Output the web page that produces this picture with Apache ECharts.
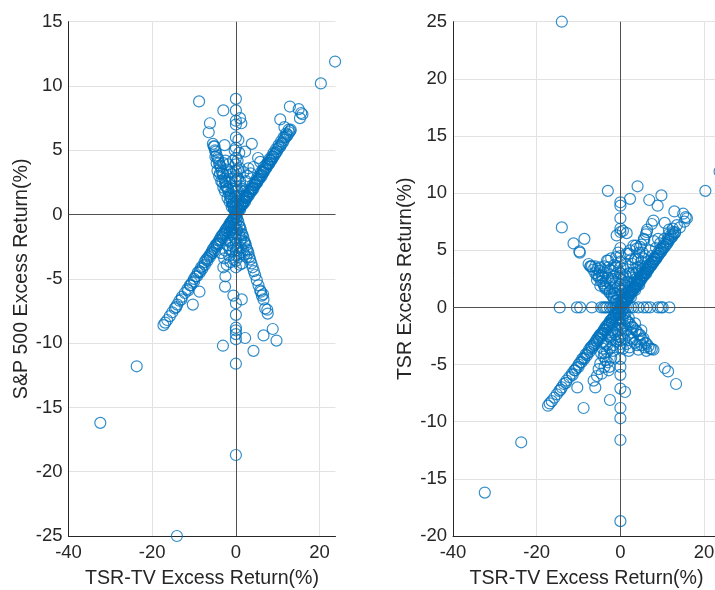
<!DOCTYPE html>
<html>
<head>
<meta charset="utf-8">
<script src="https://cdn.jsdelivr.net/npm/echarts@6/dist/echarts.min.js"></script>
<style>
  html, body { margin: 0; padding: 0; background: #ffffff; }
  #chart { width: 715px; height: 590px; }
</style>
</head>
<body>
<div id="chart"></div>
<script>
// Axis ranges and tick labels
const xMin = -40, xMax = 23.8;
const xTicks = [-40, -20, 0, 20];
const leftYTicks = [-25, -20, -15, -10, -5, 0, 5, 10, 15];
const rightYTicks = [-20, -15, -10, -5, 0, 5, 10, 15, 20, 25];

const xTitle = 'TSR-TV Excess Return(%)';
const leftYTitle = 'S&P 500 Excess Return(%)';
const rightYTitle = 'TSR Excess Return(%)';

// Days that fall on the same spot in both panels: [TSR-TV excess, other excess]
const sharedBand = [
  [0.2,0.1],[0.4,0.3],[0.6,0.3],[0.8,0.5],[1.0,0.4],[1.1,0.6],[1.3,0.7],[1.5,0.8],[1.7,0.8],[1.9,1.0],
  [2.1,1.1],[2.2,1.0],[2.4,1.3],[2.6,1.3],[2.8,1.4],[3.0,1.6],[3.1,1.5],[3.3,1.7],[3.5,1.8],[3.7,1.8],
  [3.9,2.0],[4.1,2.1],[4.2,2.0],[4.4,2.3],[4.6,2.3],[4.8,2.4],[5.0,2.6],[5.1,2.5],[5.3,2.7],[5.5,2.8],
  [5.7,2.8],[5.9,3.0],[6.1,3.1],[6.2,3.0],[6.4,3.3],[6.6,3.3],[6.8,3.4],[7.0,3.6],[7.2,3.6],[7.4,3.7],
  [7.6,3.9],[7.8,3.9],[8.0,4.0],[8.2,4.2],[8.4,4.2],[8.6,4.3],[8.8,4.5],[9.0,4.5],[9.3,4.7],[9.5,4.8],
  [9.8,4.9],[10.0,5.1],[10.3,5.2],[10.6,5.3],[10.9,5.5],[11.2,5.6],[11.5,5.8],[11.8,6.0],[12.1,6.1],
  [12.4,6.2],[12.7,6.4],[13.0,6.5],[13.1,6.6],
  [0.5,0.4],[1.0,0.7],[1.5,0.9],[2.0,1.3],[2.5,1.5],[3.0,1.8],[3.5,2.0],[4.0,2.3],[4.5,2.5],[5.0,2.8],
  [5.5,3.0],[6.0,3.3],[6.5,3.5],[7.0,3.8],[7.5,4.0],[8.0,4.3],[8.5,4.5],[9.0,4.8],[9.6,5.1],[10.2,5.4],
  [10.8,5.7],[11.4,6.0],[12.0,6.3],[12.6,6.6],
  [-0.3,-0.2],[-0.5,-0.3],[-0.8,-0.4],[-1.0,-0.5],[-1.2,-0.6],[-1.5,-0.7],[-1.7,-0.9],[-2.0,-1.0],
  [-2.2,-1.1],[-2.5,-1.2],[-2.7,-1.4],[-3.0,-1.5],[-3.2,-1.6],[-3.5,-1.7],[-3.8,-1.9],[-4.0,-2.0],
  [-4.3,-2.2],[-4.6,-2.3],[-4.9,-2.4],[-5.2,-2.6],[-5.5,-2.7],[-5.8,-2.9],[-6.1,-3.1],[-6.4,-3.2],
  [-6.8,-3.4],[-7.1,-3.5],[-7.5,-3.7],[-7.9,-4.0],[-8.3,-4.1],[-8.7,-4.4],[-9.1,-4.5],[-9.6,-4.8],
  [-10.0,-5.0],[-10.5,-5.3],[-11.0,-5.5],[-11.6,-5.8],[-12.2,-6.1],[-12.9,-6.4],[-13.5,-6.7],
  [-14.0,-7.0],[-14.6,-7.3],[-15.2,-7.6],[-15.8,-7.9],[-16.9,-8.4],[-17.3,-8.6],
  [-0.6,-0.4],[-1.1,-0.7],[-1.6,-0.9],[-2.1,-1.3],[-2.6,-1.5],[-3.1,-1.8],[-3.6,-2.0],[-4.1,-2.3],
  [-4.6,-2.5],[-5.1,-2.8],[-5.6,-3.0],[-6.2,-3.3],[-6.8,-3.6],[-7.4,-3.9],[-8.0,-4.2],[-8.6,-4.5],
  [-9.3,-4.8],[-10.0,-5.2],[-10.8,-5.5],[-11.4,-5.9],[-13.0,-6.6],[-14.3,-7.2],[-16.4,-8.2]
];
const sharedOutliers = [
  [20.3,10.2],[23.7,11.9],[-23.7,-11.8],[-32.4,-16.2],[0,-18.7],[0,-11.6],
  [12.9,8.4],[15.0,8.2],[15.6,7.9],[15.3,7.5],[15.9,7.8],[10.6,7.4],[11.6,6.8],
  [-10.3,-7.0],[0,-9.7],[0,-8.8]
];

// Left panel only: [TSR-TV excess, S&P 500 excess]
const spOnly = [
  [-0.2,0.2],[-0.4,0.4],[-0.6,0.7],[-0.8,0.8],[-1.0,1.0],[-1.2,1.3],[-1.4,1.4],[-1.6,1.6],[-1.8,1.9],
  [-2.0,2.0],[-2.2,2.2],[-2.4,2.5],[-2.6,2.6],[-2.8,2.8],[-3.0,3.1],[-3.2,3.2],[-3.4,3.4],[-3.6,3.7],
  [-3.8,3.8],[-4.0,4.0],[-4.2,4.3],[-4.4,4.4],[-4.6,4.6],[-4.8,4.9],[-5.0,5.0],[-5.3,5.3],[-5.5,5.5],
  [0.2,-0.2],[0.4,-0.4],[0.6,-0.6],[0.8,-0.9],[1.0,-1.0],[1.2,-1.2],[1.4,-1.5],[1.6,-1.6],[1.8,-1.8],
  [2.0,-2.1],[2.2,-2.2],[2.4,-2.4],[2.6,-2.7],[2.8,-2.8],[3.0,-3.0],[3.2,-3.3],[3.4,-3.5],[3.7,-3.8],
  [4.0,-4.1],[4.3,-4.4],[4.6,-4.7],[5.0,-5.1],[5.4,-5.5],[5.8,-5.9],[6.2,-6.3],[6.6,-6.6],[7.0,-7.3],
  [7.6,-7.7],
  [0,9.0],[0,8.1],[0,7.3],[0,7.0],[0,6.0],[0,5.2],[0,4.4],[0,3.9],[0,3.4],[0,3.0],[0,2.6],[0,2.2],
  [0,1.8],[0,1.4],[0,1.0],[0,0.6],[0,0.3],[0,0],[0,-0.3],[0,-0.7],[0,-1.1],[0,-1.5],[0,-1.9],[0,-2.3],
  [0,-2.8],[0,-3.2],[0,-3.6],[0,-4.1],[0,-6.9],[0,-7.8],[0,-9.0],[0,-9.3],
  [-1.5,2.5],[-0.8,2.0],[-1.2,1.6],[-2.0,3.0],[-0.6,3.3],[0.5,2.8],[0.8,1.5],[1.2,2.2],[1.8,3.3],
  [3.0,3.6],[4.2,3.7],[5.8,4.1],[5.3,4.4],[2.2,4.9],[3.8,5.5],[1.0,7.5],[1.3,7.1],[-2.7,5.4],
  [-3.0,8.1],[-6.2,7.1],[-6.5,6.4],[-8.8,8.8],[0.4,4.2],[-0.5,1.0],[0.5,0.8],[1.6,1.4],[-1.8,3.9],
  [-3.0,4.0],[-3.5,2.6],[-4.0,3.0],[-4.4,3.4],[-2.6,1.8],[-2.0,1.3],[-3.0,2.1],[0.3,1.9],[0.9,3.6],
  [2.4,2.6],[2.0,1.8],[-0.3,5.0],[0.6,5.8],
  [-0.5,0.5],[-1.0,0.6],[-1.5,1.0],[-0.4,1.4],[-2.5,2.2],[-3.2,2.5],[-3.8,3.2],[-4.6,4.0],[-4.9,4.5],
  [-5.1,5.3],[-1.0,2.8],[-1.5,3.3],[-2.2,3.5],[-2.5,4.2],[-0.7,4.2],[0.5,3.5],[1.0,2.6],[1.5,2.0],
  [2.8,3.0],[3.5,3.2],[0.8,4.8],[-0.6,0.9],
  [-8.7,-6.0],[-3.1,-10.2],[2.2,-9.6],[4.2,-10.6],[6.6,-9.4],[8.8,-8.9],[9.7,-9.8],[1.4,-6.6],
  [-0.6,-6.3],[-2.2,-3.9],[-2.5,-4.8],[-2.6,-5.6],[-3.0,-4.1],[7.5,-7.4],[-14.1,-25.0],
  [-1.5,-2.0],[-1.0,-1.5],[-2.0,-1.8],[-0.8,-2.8],[-1.6,-3.2],[0.8,-1.6],[1.2,-2.6],[0.6,-3.3],
  [1.5,-3.8],[-0.5,-1.0],[-1.2,-0.9],[2.0,-3.1],[1.0,-2.0],[-2.5,-2.8],[-3.5,-3.0],[6.0,-6.0],[6.5,-6.2],
  [-0.5,-0.8],[-1.0,-1.2],[-1.5,-1.4],[-0.3,-1.8],[-1.2,-2.2],[-0.7,-2.5],[-2.0,-2.4],[-1.5,-2.7],
  [-0.5,-3.5],[0.4,-2.6],[0.9,-3.0],[0.3,-1.2],[1.3,-1.9],[1.7,-2.8],[2.5,-3.3],[-2.8,-3.4],
  [-1.3,-3.7],[0.9,-3.9]
];

// Right panel only: [TSR-TV excess, TSR excess]
const tsrOnly = [
  [-14.5,0],[-10.4,0],[-9.6,0],[-6.8,0],[-4.6,0],[-4.0,0],[-3.6,0],[-3.2,0],[-2.5,0],[-1.8,0],
  [-1.2,0],[-0.8,0],[0.8,0],[1.3,0],[1.9,0],[2.5,0],[3.1,0],[4.3,0],[5.5,0],[6.3,0],[7.1,0],
  [9.0,0],[9.7,0],[10.1,0],[11.7,0],
  [0,9.2],[0,8.9],[0,7.8],[0,6.9],[0,6.6],[0,5.2],[0,4.5],[0,4.0],[0,3.5],[0,3.0],[0,2.5],[0,2.0],
  [0,1.5],[0,1.0],[0,0.5],[0,0],[0,-0.5],[0,-1.0],[0,-1.5],[0,-2.0],[0,-2.6],[0,-2.9],[0,-3.2],
  [0,-3.5],[0,-4.5],[0,-5.2],[0,-5.9],[0,-7.1],
  [-14.0,7.0],[-11.2,5.6],[-9.8,4.9],[-9.7,4.8],[-7.2,3.6],[-7.1,3.6],[-6.5,3.3],[-6.0,3.0],
  [-5.6,2.8],[-5.1,2.6],[-4.6,2.3],[-4.1,2.1],[-3.6,1.8],[-3.1,1.6],[-2.6,1.3],[-2.1,1.1],
  [-1.6,0.8],[-1.1,0.6],[-0.6,0.3],
  [-5.2,2.8],[-4.0,3.1],[-2.5,3.3],[-5.6,2.4],[-4.8,1.9],[-3.6,1.65],[-2.5,1.4],[-1.7,0.9],
  [-0.9,0.6],[-3.2,4.1],[-2.9,3.5],[-3.6,3.0],[-2.0,3.2],[-4.3,2.6],[-1.7,2.7],[-2.5,2.1],
  [-3.9,1.9],[-1.3,1.5],[-2.9,4.1],[-0.9,6.3],[-1.2,2.2],[-0.6,1.8],[-0.8,3.0],[-1.5,3.7],
  [-8.6,6.0],[-3.0,10.2],[-14.0,25.0],[-1.0,4.4],
  [-0.5,1.0],[-1.0,1.2],[-1.5,1.2],[-2.0,1.7],[-2.0,2.5],[-3.0,2.6],[-3.5,2.3],[-4.5,2.8],
  [-5.0,3.2],[-5.5,3.4],[-6.0,3.6],[-4.8,3.5],[-3.8,3.6],[-0.4,2.6],[-1.0,3.6],[-2.2,4.3],
  [-0.5,4.8],[-6.8,3.6],[-7.6,3.8],
  [6.3,6.6],[5.7,5.9],[5.0,5.5],[4.5,4.8],[3.6,4.3],[3.1,5.4],[2.3,5.0],[1.5,4.7],[3.9,5.15],
  [2.9,3.8],[2.2,3.0],[1.6,2.2],[1.0,1.5],[4.7,5.3],[5.6,6.0],[3.7,5.4],[2.1,4.7],[6.4,6.8],
  [6.1,6.4],[7.9,7.6],[7.5,7.3],[6.9,9.4],[8.9,8.9],[9.8,9.8],[2.3,9.5],[4.1,10.6],[1.5,6.5],
  [0.6,6.7],[1.0,1.0],[2.0,1.5],[3.0,2.0],[4.0,2.6],[5.0,3.0],[6.0,3.6],[2.0,2.2],[3.0,3.0],
  [4.0,3.5],[5.0,4.0],[6.0,4.5],[7.0,5.0],[1.5,0.6],[2.5,0.9],[3.5,1.5],[4.5,2.0],[0.5,1.2],
  [1.2,2.8],[0.7,3.4],[8.0,5.8],[9.0,6.0],[0.4,0.5],[0.3,2.4],
  [0.5,0.8],[1.0,2.0],[1.8,1.3],[2.5,1.8],[2.8,2.6],[3.4,2.4],[3.8,3.0],[4.4,3.2],[4.8,3.6],
  [5.3,3.4],[5.6,4.3],[6.5,4.0],[7.5,4.5],[8.5,5.2],[9.5,5.6],[10.5,6.0],[11.5,6.4],[12.5,6.9],
  [0.8,2.6],[1.8,3.6],[2.6,4.2],[4.2,4.2],[5.3,4.8],[1.2,3.8],[13.5,7.2],[14.2,7.0],
  [0.8,-0.6],[1.6,-1.2],[2.4,-1.5],[3.1,-1.8],[3.9,-2.1],[4.7,-2.4],[5.5,-2.7],[6.3,-3.2],
  [6.7,-3.4],[7.1,-3.6],[7.5,-3.65],[7.9,-3.7],[4.3,-3.7],[4.7,-3.0],[2.7,-2.2],[1.2,-0.5],
  [2.0,-0.9],[3.5,-1.4],[5.0,-2.0],[1.0,-1.6],[1.8,-2.4],[3.0,-2.8],[0.5,-1.0],[10.6,-5.3],
  [11.4,-5.6],[13.3,-6.7],[1.1,-7.4],[0.6,-2.3],[1.5,-3.2],[2.2,-3.5],
  [0.4,-0.3],[1.2,-1.0],[2.0,-1.3],[2.8,-1.7],[3.6,-2.0],[4.4,-2.4],[5.2,-2.8],[6.0,-3.1],
  [5.8,-3.5],[6.2,-3.8],[3.4,-3.1],[2.5,-2.7],[1.4,-2.0],[0.5,-1.8],[1.0,-2.8],[4.0,-3.3],
  [5.0,-3.3],[0.6,-3.6],[2.0,-3.8],
  [-8.8,-8.8],[-6.4,-6.4],[-6.0,-7.0],[-5.2,-5.4],[-4.8,-4.9],[-2.8,-5.5],[-2.6,-5.2],[-2.5,-8.1],
  [-4.0,-4.3],[-3.2,-3.9],[-2.5,-3.6],[-1.7,-3.3],[-3.8,-4.0],[-3.2,-3.3],[-2.5,-2.6],[-2.0,-2.0],
  [-1.5,-1.6],[-1.0,-1.0],[-0.5,-0.5],[-3.0,-2.2],[-2.0,-1.4],[-4.2,-3.0],[-1.2,-2.4],[-0.6,-1.6],
  [-3.5,-4.6],[-1.0,-3.0],
  [-0.4,-1.0],[-0.8,-2.0],[-1.5,-2.2],[-2.2,-2.8],[-2.8,-2.5],[-3.5,-3.2],[-4.2,-3.6],[-4.6,-4.0],
  [-1.8,-3.8],[-2.2,-4.4],[-3.0,-4.8],[-3.8,-5.2],[-0.5,-2.8],[-1.4,-4.4],[-4.5,-5.8],[-5.6,-6.0]
];

const FONT = '"Liberation Sans", Arial, Helvetica, sans-serif';
const TEXT = '#262626';
const GRID_LINE = '#e2e2e2';
const MARK = '#0072BD';
const TICK_SIZE = 18.5;
const TITLE_SIZE = 19.6;

function xAxisFor(gridIndex) {
  return {
    gridIndex: gridIndex, type: 'value', min: xMin, max: xMax, interval: 20,
    name: xTitle, nameLocation: 'middle', nameGap: 33,
    nameTextStyle: { fontFamily: FONT, fontSize: TITLE_SIZE, color: TEXT },
    axisLine: { show: true, onZero: false, lineStyle: { color: TEXT, width: 1 } },
    axisTick: { show: false },
    axisLabel: {
      fontFamily: FONT, fontSize: TICK_SIZE, color: TEXT, margin: 7, showMaxLabel: false,
      formatter: function (v) { return xTicks.indexOf(v) >= 0 ? String(v) : ''; }
    },
    splitLine: { show: true, showMaxLine: false, lineStyle: { color: GRID_LINE, width: 1 } }
  };
}

function yAxisFor(gridIndex, ticks, title, gap) {
  return {
    gridIndex: gridIndex, type: 'value', min: ticks[0], max: ticks[ticks.length - 1], interval: 5,
    name: title, nameLocation: 'middle', nameGap: gap,
    nameTextStyle: { fontFamily: FONT, fontSize: TITLE_SIZE, color: TEXT },
    axisLine: { show: true, onZero: false, lineStyle: { color: TEXT, width: 1 } },
    axisTick: { show: false },
    axisLabel: { fontFamily: FONT, fontSize: TICK_SIZE, color: TEXT, margin: 6 },
    splitLine: { show: true, lineStyle: { color: GRID_LINE, width: 1 } }
  };
}

function scatterFor(index, data) {
  return {
    type: 'scatter', xAxisIndex: index, yAxisIndex: index, data: data,
    symbol: 'circle', symbolSize: 11,
    itemStyle: { color: 'rgba(0,0,0,0)', borderColor: MARK, borderWidth: 1.2 },
    markLine: {
      silent: true, symbol: 'none', label: { show: false },
      lineStyle: { color: '#505050', type: 'solid', width: 1 },
      data: [{ xAxis: 0 }, { yAxis: 0 }]
    }
  };
}

const chart = echarts.init(document.getElementById('chart'), null, { renderer: 'canvas' });
chart.setOption({
  animation: false,
  backgroundColor: '#ffffff',
  grid: [
    { left: 68.5, top: 21.7, width: 267, height: 514.3, outerBoundsMode: 'none' },
    { left: 453, top: 21.7, width: 267, height: 514.3, outerBoundsMode: 'none' }
  ],
  xAxis: [xAxisFor(0), xAxisFor(1)],
  yAxis: [
    yAxisFor(0, leftYTicks, leftYTitle, 31),
    yAxisFor(1, rightYTicks, rightYTitle, 37)
  ],
  series: [
    scatterFor(0, sharedBand.concat(sharedOutliers, spOnly)),
    scatterFor(1, sharedBand.concat(sharedOutliers, tsrOnly))
  ]
});
</script>
</body>
</html>
